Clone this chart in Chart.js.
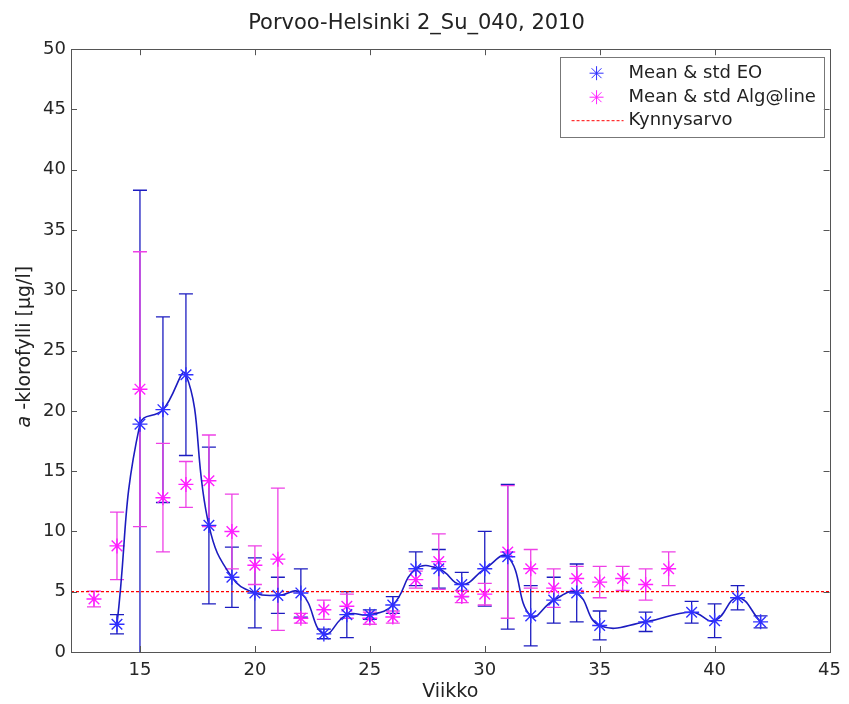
<!DOCTYPE html>
<html><head><meta charset="utf-8">
<script src="https://cdn.jsdelivr.net/npm/chart.js@4.4.0/dist/chart.umd.min.js"></script>
<style>html,body{margin:0;padding:0;background:#fff}#wrap{width:849px;height:704px}</style>
</head><body><div id="wrap"><canvas id="c" width="849" height="704"></canvas></div>
<script>
const titleText = 'Porvoo-Helsinki 2_Su_040, 2010';
const xLabel = 'Viikko';
const yLabelItalic = 'a';
const yLabelRest = ' -klorofylli [µg/l]';
const xTicks = [15, 20, 25, 30, 35, 40, 45];
const yTicks = [0, 5, 10, 15, 20, 25, 30, 35, 40, 45, 50];
const xRange = [12, 45];
const yRange = [0, 50];
const legendLabels = ['Mean & std EO', 'Mean & std Alg@line', 'Kynnysarvo'];

const weeksEO = [14, 15, 16, 17, 18, 19, 20, 21, 22, 23, 24, 25, 26, 27, 28, 29, 30, 31, 32, 33, 34, 35, 37, 39, 40, 41, 42];
const meanEO  = [2.3, 18.9, 20.1, 23.0, 10.5, 6.2, 4.9, 4.7, 4.9, 1.5, 3.1, 3.1, 3.9, 6.9, 6.9, 5.6, 6.9, 7.9, 3.0, 4.3, 4.9, 2.2, 2.5, 3.3, 2.6, 4.5, 2.5];
const stdEO   = [0.8, 19.4, 7.7, 6.7, 6.5, 2.5, 2.9, 1.5, 2.0, 0.4, 1.9, 0.4, 0.7, 1.4, 1.6, 1.0, 3.1, 6.0, 2.5, 1.9, 2.4, 1.2, 0.8, 0.9, 1.4, 1.0, 0.5];

const weeksAlg = [13, 14, 15, 16, 17, 18, 19, 20, 21, 22, 23, 24, 25, 26, 27, 28, 29, 30, 31, 32, 33, 34, 35, 36, 37, 38];
const meanAlg  = [4.4, 8.8, 21.8, 12.8, 13.9, 14.2, 10.0, 7.2, 7.7, 2.8, 3.5, 3.8, 2.8, 2.9, 6.0, 7.5, 4.6, 4.8, 8.3, 6.9, 5.3, 6.1, 5.8, 6.1, 5.6, 6.9];
const stdAlg   = [0.65, 2.8, 11.4, 4.5, 1.9, 3.8, 3.1, 1.6, 5.9, 0.4, 0.8, 1.0, 0.5, 0.5, 0.7, 2.3, 0.5, 0.9, 5.5, 1.6, 1.6, 1.0, 1.3, 1.0, 1.3, 1.4];

const thresholdValue = 5;

const FONT = "'DejaVu Sans', sans-serif";
const blueLine = '#1c1cc0';
const blueMark = '#3030ff';
const pinkBar = '#ee40e6';
const pinkMark = '#ff20ff';

const eoPts = weeksEO.map((w, i) => ({x: w, y: meanEO[i]}));
const algPts = weeksAlg.map((w, i) => ({x: w, y: meanAlg[i]}));
const thrPts = xRange.map(v => ({x: v, y: thresholdValue}));

function drawErr(chart, weeks, mean, std, color) {
  const ctx = chart.ctx, xs = chart.scales.x, ys = chart.scales.y, ca = chart.chartArea;
  ctx.save();
  ctx.beginPath(); ctx.rect(ca.left, ca.top, ca.right - ca.left, ca.bottom - ca.top); ctx.clip();
  ctx.strokeStyle = color; ctx.lineWidth = 1.3;
  const cap = 7;
  weeks.forEach((w, i) => {
    const px = xs.getPixelForValue(w);
    const hi = ys.getPixelForValue(mean[i] + std[i]);
    const lo = ys.getPixelForValue(mean[i] - std[i]);
    ctx.beginPath();
    ctx.moveTo(px, hi); ctx.lineTo(px, lo);
    ctx.moveTo(px - cap, hi); ctx.lineTo(px + cap, hi);
    ctx.moveTo(px - cap, lo); ctx.lineTo(px + cap, lo);
    ctx.stroke();
  });
  ctx.restore();
}

function star(ctx, x, y, r, color) {
  ctx.save(); ctx.strokeStyle = color; ctx.lineWidth = 1;
  ctx.beginPath();
  ctx.moveTo(x - r, y); ctx.lineTo(x + r, y);
  ctx.moveTo(x, y - r); ctx.lineTo(x, y + r);
  const d = r * Math.SQRT1_2;
  ctx.moveTo(x - d, y - d); ctx.lineTo(x + d, y + d);
  ctx.moveTo(x - d, y + d); ctx.lineTo(x + d, y - d);
  ctx.stroke(); ctx.restore();
}

const extras = {
  id: 'extras',
  beforeDatasetsDraw(chart) {
    drawErr(chart, weeksEO, meanEO, stdEO, blueLine);
    drawErr(chart, weeksAlg, meanAlg, stdAlg, pinkBar);
  },
  afterDraw(chart) {
    const ctx = chart.ctx, ca = chart.chartArea, xs = chart.scales.x, ys = chart.scales.y;
    ctx.save();
    ctx.strokeStyle = '#555'; ctx.lineWidth = 1;
    ctx.strokeRect(Math.round(ca.left) + 0.5, Math.round(ca.top) + 0.5, Math.round(ca.right - ca.left), Math.round(ca.bottom - ca.top));
    ctx.beginPath();
    const tl = 6;
    xTicks.forEach(v => {
      const px = Math.round(xs.getPixelForValue(v)) + 0.5;
      ctx.moveTo(px, ca.bottom); ctx.lineTo(px, ca.bottom - tl);
      ctx.moveTo(px, ca.top); ctx.lineTo(px, ca.top + tl);
    });
    yTicks.forEach(v => {
      const py = Math.round(ys.getPixelForValue(v)) + 0.5;
      ctx.moveTo(ca.left, py); ctx.lineTo(ca.left + tl, py);
      ctx.moveTo(ca.right, py); ctx.lineTo(ca.right - tl, py);
    });
    ctx.stroke();

    // y axis title
    ctx.fillStyle = '#222';
    ctx.textBaseline = 'middle';
    ctx.translate(25, (ca.top + ca.bottom) / 2 - 4);
    ctx.rotate(-Math.PI / 2);
    ctx.font = 'italic 19px ' + FONT;
    const w1 = ctx.measureText(yLabelItalic).width;
    ctx.font = '19px ' + FONT;
    const w2 = ctx.measureText(yLabelRest).width;
    let sx = -(w1 + w2) / 2;
    ctx.font = 'italic 19px ' + FONT;
    ctx.textAlign = 'left';
    ctx.fillText(yLabelItalic, sx, 0);
    ctx.font = '19px ' + FONT;
    ctx.fillText(yLabelRest, sx + w1, 0);
    ctx.restore();

    // legend
    ctx.save();
    const bx = ca.right - 270, by = ca.top + 8, bw = 264, bh = 80;
    ctx.fillStyle = '#fff'; ctx.fillRect(bx, by, bw, bh);
    ctx.strokeStyle = '#777'; ctx.lineWidth = 1;
    ctx.strokeRect(Math.round(bx) + 0.5, Math.round(by) + 0.5, bw, bh);
    const rows = [by + 16, by + 40, by + 63];
    const mx = bx + 37;
    star(ctx, mx, rows[0], 7, blueMark);
    star(ctx, mx, rows[1], 7, pinkMark);
    ctx.strokeStyle = '#ff0000'; ctx.setLineDash([3, 2]);
    ctx.beginPath(); ctx.moveTo(bx + 12, rows[2] + 0.5); ctx.lineTo(bx + 64, rows[2] + 0.5); ctx.stroke();
    ctx.setLineDash([]);
    ctx.fillStyle = '#222'; ctx.font = '18px ' + FONT; ctx.textBaseline = 'middle'; ctx.textAlign = 'left';
    legendLabels.forEach((t, i) => ctx.fillText(t, bx + 69, rows[i]));
    ctx.restore();
  }
};

new Chart(document.getElementById('c'), {
  type: 'line',
  data: {
    datasets: [
      { label: legendLabels[0], data: eoPts, borderColor: blueLine, borderWidth: 1.6, tension: 0.45,
        pointStyle: 'star', pointRadius: 7.5, pointBorderColor: blueMark, pointBorderWidth: 1.4, pointBackgroundColor: blueMark, order: 0 },
      { label: legendLabels[1], data: algPts, showLine: false, borderColor: pinkMark,
        pointStyle: 'star', pointRadius: 7.5, pointBorderColor: pinkMark, pointBorderWidth: 1.4, pointBackgroundColor: pinkMark, order: 1 },
      { label: legendLabels[2], data: thrPts, borderColor: '#ff0000', borderWidth: 1.2, borderDash: [3, 2],
        pointRadius: 0, tension: 0, order: 2 }
    ]
  },
  options: {
    responsive: false, animation: false, devicePixelRatio: 1,
    layout: { padding: { left: 0, right: 16, top: 0, bottom: 0 } },
    plugins: {
      legend: { display: false }, tooltip: { enabled: false },
      title: { display: true, text: titleText, color: '#222', font: { family: FONT, size: 21, weight: 'normal' }, padding: { top: 11, bottom: 13 } }
    },
    scales: {
      x: {
        type: 'linear', min: xRange[0], max: xRange[1],
        afterBuildTicks(s) { s.ticks = xTicks.map(v => ({ value: v })); },
        afterFit(s) { s.height = 52; },
        grid: { display: false, drawTicks: false }, border: { display: false },
        ticks: { color: '#262626', font: { family: FONT, size: 18 }, padding: 8, maxRotation: 0, autoSkip: false },
        title: { display: true, text: xLabel, color: '#222', font: { family: FONT, size: 19 }, padding: { top: 0, bottom: 1 } }
      },
      y: {
        type: 'linear', min: yRange[0], max: yRange[1],
        afterBuildTicks(s) { s.ticks = yTicks.map(v => ({ value: v })); },
        afterFit(s) { s.width = 71; },
        grid: { display: false, drawTicks: false }, border: { display: false },
        ticks: { color: '#262626', font: { family: FONT, size: 18 }, padding: 5, autoSkip: false }
      }
    }
  },
  plugins: [extras]
});
</script></body></html>
